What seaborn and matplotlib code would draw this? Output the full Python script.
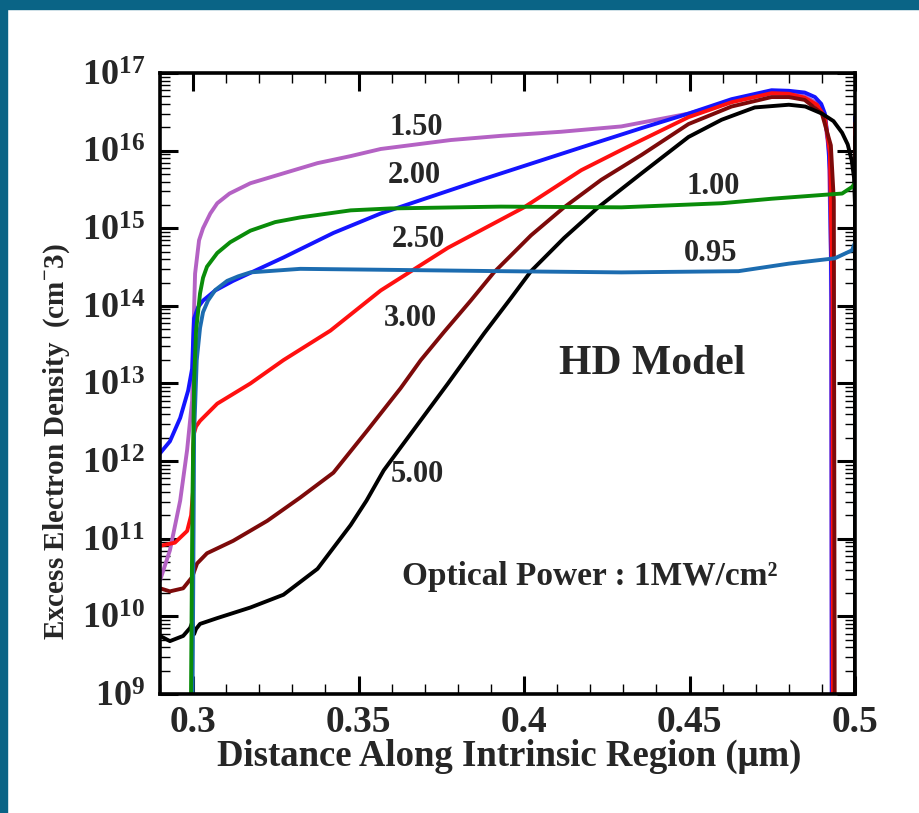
"""Excess electron density along the intrinsic region (HD model)."""
import matplotlib

matplotlib.use("Agg")
import matplotlib.pyplot as plt
import pandas as pd
import seaborn as sns
from matplotlib.patches import Rectangle
from matplotlib.ticker import LogLocator, MultipleLocator, NullFormatter

# curve labels and colours, in drawing order
labels = ["1.50", "2.00", "2.50", "3.00", "5.00", "0.95", "1.00"]
colors = ["#b462c4", "#1414ff", "#ff1010", "#7d0a0a", "#000000", "#1c6cb0", "#0a8c0a"]

x_150 = [0.2900, 0.2930, 0.2961, 0.2982, 0.2997, 0.3000, 0.3002, 0.3006, 0.3018, 0.3030,
         0.3052, 0.3073, 0.3110, 0.3173, 0.3273, 0.3376, 0.3476, 0.3567, 0.3779, 0.3930,
         0.4112, 0.4294, 0.4400, 0.4497, 0.4627, 0.4748, 0.4800, 0.4848, 0.4885, 0.4909,
         0.4921, 0.4927, 0.4930]
n_150 = [2.9e10, 7.1e10, 3.1e11, 1.4e12, 6.0e12, 2.7e13, 6.5e13, 2.6e14, 7.0e14, 1.0e15,
         1.55e15, 2.1e15, 2.8e15, 3.8e15, 5.1e15, 6.9e15, 8.5e15, 1.05e16, 1.37e16, 1.55e16,
         1.75e16, 2.05e16, 2.5e16, 3.0e16, 4.3e16, 5.5e16, 5.5e16, 5.0e16, 4.1e16, 2.5e16,
         1.0e16, 5e14, 1e8]

x_200 = [0.2900, 0.2930, 0.2961, 0.2985, 0.2997, 0.3000, 0.3003, 0.3015, 0.3030, 0.3067,
         0.3121, 0.3273, 0.3424, 0.3567, 0.3870, 0.4173, 0.4355, 0.4497, 0.4627, 0.4748,
         0.4800, 0.4848, 0.4879, 0.4898, 0.4909, 0.4918, 0.4924, 0.4929, 0.4930, 0.5000,
         0.5000]
n_200 = [1.26e12, 1.8e12, 3.6e12, 8.1e12, 1.55e13, 3.5e13, 6.9e13, 9.6e13, 1.17e14, 1.58e14,
         2.1e14, 4.2e14, 8.7e14, 1.55e15, 4.2e15, 1.1e16, 1.95e16, 3.0e16, 4.6e16, 6.0e16,
         5.9e16, 5.6e16, 4.9e16, 4.0e16, 3.0e16, 1.4e16, 5.6e15, 1.2e14, 1e8, 1e8,
         2.7e16]

x_250 = [0.2900, 0.2945, 0.2982, 0.2994, 0.3000, 0.3000, 0.3003, 0.3009, 0.3021, 0.3073,
         0.3173, 0.3273, 0.3415, 0.3567, 0.3770, 0.4000, 0.4173, 0.4294, 0.4497, 0.4627,
         0.4748, 0.4800, 0.4848, 0.4885, 0.4909, 0.4924, 0.4932, 0.4933, 0.5000, 0.5000]
n_250 = [8.1e10, 8.9e10, 1.26e11, 2.0e11, 4.2e11, 1.38e12, 2.3e12, 2.8e12, 3.3e12, 5.5e12,
         1.0e13, 2.0e13, 4.8e13, 1.58e14, 5.6e14, 1.86e15, 5.6e15, 1.02e16, 2.7e16, 4.2e16,
         5.5e16, 5.4e16, 4.8e16, 3.9e16, 2.7e16, 9.3e15, 1.2e14, 1e8, 1e8, 2.25e16]

x_300 = [0.2900, 0.2930, 0.2970, 0.2997, 0.3012, 0.3042, 0.3121, 0.3224, 0.3324, 0.3424,
         0.3527, 0.3627, 0.3688, 0.3758, 0.3839, 0.3909, 0.4021, 0.4121, 0.4233, 0.4355,
         0.4497, 0.4627, 0.4748, 0.4800, 0.4848, 0.4900, 0.4927, 0.4936, 0.4939, 0.5000,
         0.5000]
n_300 = [2.3e10, 2.1e10, 2.3e10, 3.2e10, 4.8e10, 6.5e10, 9.4e10, 1.7e11, 3.4e11, 7.1e11,
         2.5e12, 8.7e12, 2.0e13, 4.6e13, 1.17e14, 2.7e14, 8.1e14, 1.86e15, 4.2e15, 8.8e15,
         2.2e16, 3.7e16, 4.9e16, 4.9e16, 4.5e16, 3.0e16, 1.17e16, 2.3e15, 1e8, 1e8,
         1.5e16]

x_500 = [0.2900, 0.2930, 0.2970, 0.2991, 0.2998, 0.3003, 0.3009, 0.3021, 0.3073, 0.3173,
         0.3273, 0.3376, 0.3476, 0.3524, 0.3576, 0.3627, 0.3770, 0.3879, 0.3961, 0.4021,
         0.4121, 0.4224, 0.4355, 0.4497, 0.4597, 0.4697, 0.4800, 0.4850, 0.4900, 0.4935,
         0.4961, 0.4978, 0.4990, 0.4997, 0.5000, 0.5000]
n_500 = [5.6e9, 4.8e9, 5.6e9, 7.1e9, 8.5e9, 5.9e9, 6.9e9, 8.0e9, 9.5e9, 1.3e10,
         1.9e10, 4.1e10, 1.5e11, 3.1e11, 7.6e11, 1.5e12, 1.0e13, 4.4e13, 1.27e14, 2.8e14,
         7.5e14, 1.86e15, 5.1e15, 1.5e16, 2.5e16, 3.6e16, 3.9e16, 3.7e16, 3.0e16, 2.4e16,
         1.7e16, 1.2e16, 7.5e15, 4.5e15, 2e15, 1e8]

x_095 = [0.2997, 0.3002, 0.3003, 0.3011, 0.3021, 0.3030, 0.3045, 0.3067, 0.3103, 0.3136,
         0.3173, 0.3324, 0.3627, 0.3930, 0.4294, 0.4648, 0.4800, 0.4939, 0.4991, 0.5000]
n_095 = [1e8, 3.1e11, 2.2e12, 2.0e13, 5.2e13, 8.3e13, 1.17e14, 1.6e14, 2.1e14, 2.4e14,
         2.7e14, 3.0e14, 2.9e14, 2.8e14, 2.7e14, 2.8e14, 3.5e14, 4.1e14, 5.2e14, 6.5e14]

x_100 = [0.2992, 0.2998, 0.3003, 0.3009, 0.3021, 0.3030, 0.3042, 0.3073, 0.3112, 0.3173,
         0.3248, 0.3324, 0.3476, 0.3597, 0.3930, 0.4294, 0.4597, 0.4748, 0.4909, 0.4961,
         0.4991, 0.5000]
n_100 = [1e8, 3.1e11, 1.1e13, 4.8e13, 1.45e14, 2.3e14, 3.2e14, 4.8e14, 6.6e14, 9.3e14,
         1.2e15, 1.38e15, 1.7e15, 1.8e15, 1.9e15, 1.86e15, 2.1e15, 2.4e15, 2.7e15, 2.8e15,
         3.4e15, 3.8e15]

xtick_values = [0.3, 0.35, 0.4, 0.45, 0.5]
xtick_labels = ["0.3", "0.35", "0.4", "0.45", "0.5"]

series = {
    "1.50": (x_150, n_150),
    "2.00": (x_200, n_200),
    "2.50": (x_250, n_250),
    "3.00": (x_300, n_300),
    "5.00": (x_500, n_500),
    "0.95": (x_095, n_095),
    "1.00": (x_100, n_100),
}
df = pd.concat(
    [pd.DataFrame({"x": xs, "n": ns, "curve": lab}) for lab, (xs, ns) in series.items()],
    ignore_index=True,
)

sns.set_theme(style="white")
plt.rcParams["font.family"] = ["Liberation Serif", "DejaVu Serif"]
plt.rcParams["font.weight"] = "bold"
plt.rcParams["axes.labelweight"] = "bold"

fig = plt.figure(figsize=(9.19, 8.13), dpi=100)
fig.patch.set_facecolor("white")
# teal frame strips (top and left)
frame = "#0a6486"
fig.patches.append(Rectangle((0, 1 - 9 / 813), 1, 9 / 813, transform=fig.transFigure,
                             color=frame, zorder=0))
fig.patches.append(Rectangle((0, 0), 7 / 919, 1, transform=fig.transFigure,
                             color=frame, zorder=0))

ax = fig.add_axes([160 / 919, 1 - 694 / 813, 695 / 919, 621 / 813])
ax.set_yscale("log")
sns.lineplot(data=df, x="x", y="n", hue="curve", hue_order=labels, palette=colors,
             estimator=None, sort=False, linewidth=2.8, legend=False, ax=ax)
for ln in ax.get_lines():
    ln.set_solid_joinstyle("round")
    ln.set_solid_capstyle("round")

ax.set_xlim(0.29, 0.5)
ax.set_ylim(1e9, 1e17)
ax.set_xticks(xtick_values)
ax.set_xticklabels(xtick_labels)
ax.xaxis.set_minor_locator(MultipleLocator(0.01))
ax.yaxis.set_major_locator(LogLocator(base=10, numticks=20))
ax.yaxis.set_minor_locator(LogLocator(base=10, subs=range(2, 10), numticks=20))
ax.yaxis.set_minor_formatter(NullFormatter())

ax.tick_params(which="both", direction="in", bottom=True, left=True, top=True, right=True,
               color="black")
ax.tick_params(which="major", length=13, width=2.2)
ax.tick_params(which="minor", length=7, width=1)
ax.tick_params(axis="x", labelsize=27, pad=8)
ax.tick_params(axis="y", labelsize=26, pad=11)
for sp in ax.spines.values():
    sp.set_color("black")
    sp.set_linewidth(2.6)

ax.set_xlabel("Distance Along Intrinsic Region (\u03bcm)", fontsize=26.5)
ax.xaxis.set_label_coords(0.502, -0.072)
ax.set_ylabel("Excess Electron Density  (cm$^{\\mathdefault{-}}$3)", fontsize=21, va="center")
ax.yaxis.set_label_coords(-0.148, 0.407)

# curve labels
label_pos = {
    "1.50": (0.3673, 2.0e16),
    "2.00": (0.3667, 4.8e15),
    "2.50": (0.3680, 7.1e14),
    "3.00": (0.3658, 6.8e13),
    "5.00": (0.3676, 6.8e11),
    "1.00": (0.4570, 3.4e15),
    "0.95": (0.4564, 4.7e14),
}
for lab, (lx, ly) in label_pos.items():
    ax.text(lx, ly, lab, fontsize=22, fontweight="bold", ha="center", va="center")

ax.text(0.4388, 1.8e13, "HD Model", fontsize=30, fontweight="bold", ha="center", va="center")
ax.text(0.4200, 3.3e10, "Optical Power : 1MW/cm\u00b2", fontsize=24, fontweight="bold",
        ha="center", va="center")

fig.savefig("out.png", dpi=100)
